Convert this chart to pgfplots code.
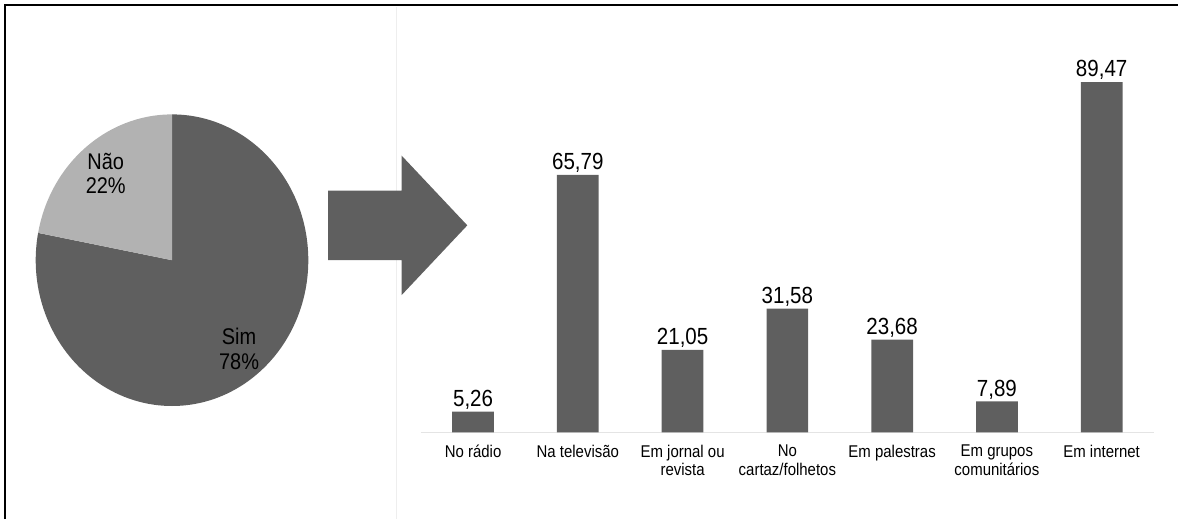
\documentclass[border=0pt]{standalone}
\usepackage{pgfplots}
\pgfplotsset{compat=1.18}
\usepackage{pgfplotstable}
\usepackage{fontspec}
\setmainfont{Liberation Sans}[FakeStretch=0.88]

\definecolor{darkfill}{RGB}{95,95,95}
\definecolor{lightfill}{RGB}{178,178,178}
\definecolor{baseline}{RGB}{228,228,228}
\definecolor{divider}{RGB}{238,238,238}

% Where people get information (percent of respondents)
\pgfplotstableread{
idx value
0 5.26
1 65.79
2 21.05
3 31.58
4 23.68
5 7.89
6 89.47
}\sources

% Pie shares (percent)
\def\sim{78}
\def\nao{22}

\begin{document}
\begin{tikzpicture}
\useasboundingbox (0,0) rectangle (883.5pt,389.25pt);

% frame, divider and arrow (pixel grid, origin top left)
\begin{scope}[x=0.75pt,y=-0.75pt,shift={(0,-519)}]
  \draw[divider,line width=0.75pt] (396.7,7) -- (396.7,519);
  \draw[black,line width=1.6pt] (5,519) -- (5,5) -- (1178,5);
  \fill[darkfill] (328,190.7) -- (401.7,190.7) -- (401.7,155.7)
     -- (467.3,225.35) -- (401.7,295) -- (401.7,260) -- (328,260) -- cycle;
\end{scope}

% pie chart
\begin{axis}[
  at={(129pt,194.1pt)}, anchor=center,
  scale only axis, width=204.45pt, height=218.7pt,
  xmin=-1, xmax=1, ymin=-1, ymax=1,
  hide axis, clip=false,
]
  \pgfmathsetmacro{\simend}{90-\sim*3.6}
  \pgfmathsetmacro{\naoend}{90+\nao*3.6}
  \fill[darkfill] (axis cs:0,0) -- (axis cs:0,1)
     arc[start angle=90, end angle=\simend, x radius=1, y radius=1] -- cycle;
  \fill[lightfill] (axis cs:0,0) -- (axis cs:0,1)
     arc[start angle=90, end angle=\naoend, x radius=1, y radius=1] -- cycle;
  \node[align=center, font=\fontsize{17}{18.4}\selectfont, inner sep=0pt]
     at (axis cs:-0.486,0.596) {Não\\22\%};
  \node[align=center, font=\fontsize{17}{18.4}\selectfont, inner sep=0pt]
     at (axis cs:0.492,-0.607) {Sim\\78\%};
\end{axis}

% bar chart
\begin{axis}[
  at={(315.525pt,65.025pt)}, anchor=south west,
  scale only axis, width=550pt, height=293.6pt,
  xmin=-0.5, xmax=6.5, ymin=0, ymax=100,
  axis x line=bottom, axis y line=none,
  x axis line style={draw=baseline, line width=0.75pt, -},
  xtick=data, major tick length=0pt,
  xticklabels={No rádio, Na televisão, Em jornal ou\\revista,
     No\\cartaz/folhetos, Em palestras, Em grupos\\comunitários, Em internet},
  xticklabel style={align=center, anchor=north, inner sep=0pt, yshift=-9.25pt,
     font=\fontsize{12.75}{14}\selectfont},
  nodes near coords,
  every node near coord/.append style={font=\fontsize{17.5}{18}\selectfont,
     inner sep=1.5pt, text=black},
  /pgf/number format/.cd, use comma, fixed, fixed zerofill, precision=2,
     assume math mode=true,
]
  \addplot[ybar, bar width=31.3pt, fill=darkfill, draw=none]
     table[x=idx, y=value] {\sources};
\end{axis}
\end{tikzpicture}
\end{document}
